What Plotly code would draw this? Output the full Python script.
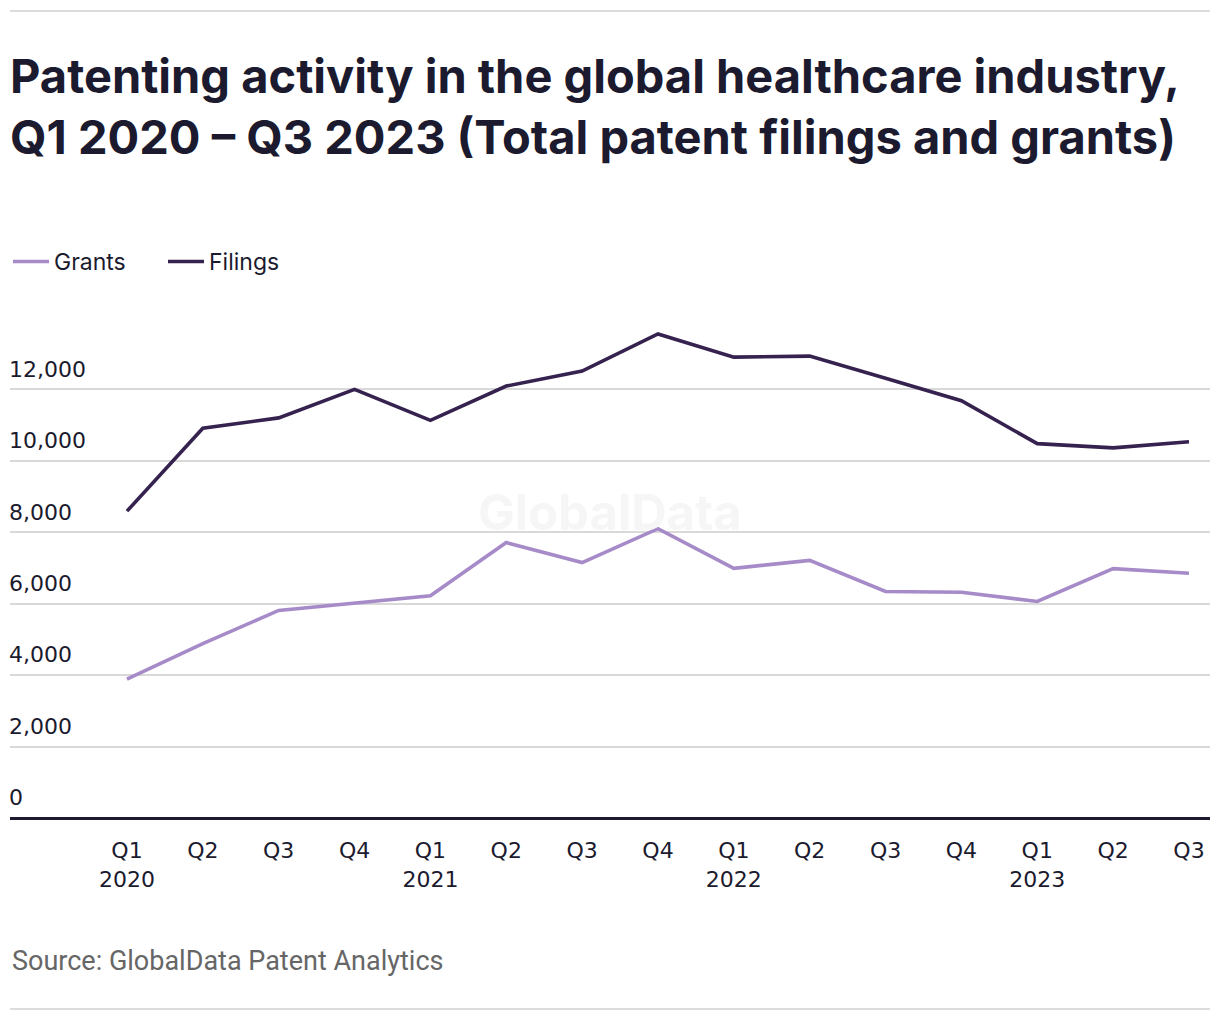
import plotly.graph_objects as go

quarters = ["Q1 2020", "Q2 2020", "Q3 2020", "Q4 2020",
            "Q1 2021", "Q2 2021", "Q3 2021", "Q4 2021",
            "Q1 2022", "Q2 2022", "Q3 2022", "Q4 2022",
            "Q1 2023", "Q2 2023", "Q3 2023"]
tick_labels = ["Q1<br>2020", "Q2", "Q3", "Q4",
               "Q1<br>2021", "Q2", "Q3", "Q4",
               "Q1<br>2022", "Q2", "Q3", "Q4",
               "Q1<br>2023", "Q2", "Q3"]
grants = [3890, 4880, 5810, 6020, 6220, 7710, 7150, 8100,
          6990, 7210, 6340, 6320, 6060, 6980, 6850]
filings = [8590, 10910, 11200, 12000, 11130, 12090, 12510, 13550,
           12900, 12930, 12310, 11680, 10480, 10360, 10530]
y_ticks = [0, 2000, 4000, 6000, 8000, 10000, 12000]
y_tick_text = ["0", "2,000", "4,000", "6,000", "8,000", "10,000", "12,000"]

DARK = "#1b1a2e"
GRANTS_C = "#a68bc8"
FILINGS_C = "#35224f"
FONT = "Inter"
TICKFONT = "DejaVu Sans"

W, H = 1212, 1012
ML, MR, MT, MB = 2, 10, 292, 202
PH = H - MT - MB

fig = go.Figure()
fig.add_trace(go.Scatter(x=quarters, y=grants, name="Grants", mode="lines",
                         line=dict(color=GRANTS_C, width=3.6)))
fig.add_trace(go.Scatter(x=quarters, y=filings, name="Filings", mode="lines",
                         line=dict(color=FILINGS_C, width=3.6)))

fig.update_layout(
    width=W, height=H,
    margin=dict(l=ML, r=MR, t=MT, b=MB),
    paper_bgcolor="white", plot_bgcolor="white",
    font=dict(family=FONT, color=DARK, size=20),
    title=dict(
        text="<b>Patenting activity in the global healthcare industry,<br>Q1 2020 – Q3 2023 (Total patent filings and grants)</b>",
        x=0, xref="paper", xanchor="left",
        y=1 - 85 / H, yref="container", yanchor="top",
        font=dict(family=FONT, size=47, color=DARK),
    ),
    showlegend=True,
    legend=dict(orientation="h", x=-4 / 1200, xref="paper", xanchor="left",
                y=1 - 232 / H, yref="container", yanchor="top",
                font=dict(family=FONT, size=23, color=DARK), itemwidth=36,
                entrywidth=104, entrywidthmode="pixels",
                bgcolor="rgba(0,0,0,0)"),
    xaxis=dict(
        type="category", range=[-1.542, 14.277],
        tickmode="array", tickvals=quarters, ticktext=tick_labels,
        showgrid=False, showline=False, zeroline=False,
        ticks="", ticklabelstandoff=17,
        tickfont=dict(family=TICKFONT, size=22, color=DARK),
    ),
    yaxis=dict(
        range=[0, 14500], tickmode="array", tickvals=y_ticks, ticktext=y_tick_text,
        showgrid=True, gridcolor="#d9d9d9", gridwidth=1.6,
        zeroline=True, zerolinecolor=DARK, zerolinewidth=2.5,
        showline=False, ticks="",
        ticklabelposition="inside top", ticklabelstandoff=-4, ticklabelshift=-5,
        tickfont=dict(family=TICKFONT, size=22, color=DARK),
    ),
    shapes=[
        dict(type="line", xref="paper", yref="paper", x0=0, x1=1,
             y0=1 + 289 / PH, y1=1 + 289 / PH, line=dict(color="#dcdcdc", width=2)),
        dict(type="line", xref="paper", yref="paper", x0=0, x1=1,
             y0=-191 / PH, y1=-191 / PH, line=dict(color="#dcdcdc", width=2)),
    ],
    annotations=[
        dict(text="<b>GlobalData</b>", x=0.5, y=(818 - 512) / PH,
             xref="paper", yref="paper", showarrow=False,
             font=dict(family=FONT, size=49, color="#f6f6f6")),
        dict(text="Source: GlobalData Patent Analytics", x=0, y=-(961 - 818) / PH,
             xref="paper", yref="paper", xanchor="left", yanchor="middle",
             showarrow=False, font=dict(family="Roboto", size=27, color="#666666")),
    ],
)

fig.write_html("out.html")
